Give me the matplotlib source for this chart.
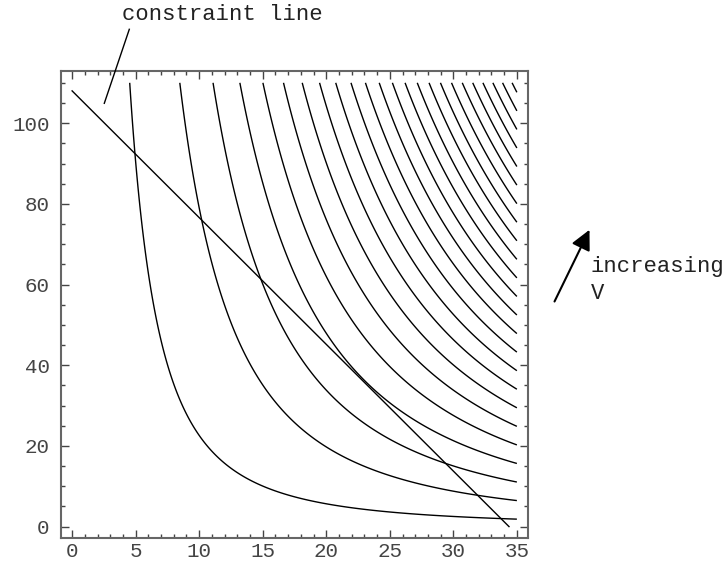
import numpy as np
import matplotlib
matplotlib.use("Agg")
import matplotlib.pyplot as plt

# contour levels of V = x^2 * y
levels = [2260, 7900, 13530, 19170, 24800, 30440, 36070, 41710, 47340, 52980,
          58610, 64250, 69880, 75520, 81150, 86790, 92420, 98060, 103690,
          109330, 114960, 120600, 126230, 131870]

# region that was contoured
x_range = [0, 35]
y_range = [0, 110]

# constraint line y = 108 - pi * x
constraint_x = [0, 34.38]
constraint_y = [108, 0]

x_ticks = [0, 5, 10, 15, 20, 25, 30, 35]
y_ticks = [0, 20, 40, 60, 80, 100]

FONT = "Liberation Mono"
GRAY = "#444444"

fig = plt.figure(figsize=(7.25, 5.63), dpi=100)
ax = fig.add_axes([0.0837, 0.0439, 0.645, 0.8305])

xs = np.linspace(x_range[0], x_range[1], 600)
ys = np.linspace(y_range[0], y_range[1], 600)
X, Y = np.meshgrid(xs, ys)
V = X ** 2 * Y
ax.contour(X, Y, V, levels=levels, colors="black", linewidths=1.0)

ax.plot(constraint_x, constraint_y, color="black", lw=1.0)

ax.set_xlim(-0.9, 35.9)
ax.set_ylim(-2.9, 113)
ax.set_xticks(x_ticks)
ax.set_yticks(y_ticks)
ax.set_xticks(np.arange(0, 36, 1), minor=True)
ax.set_yticks(np.arange(0, 111, 5), minor=True)
ax.tick_params(which="both", direction="in", top=True, right=True,
               color=GRAY, width=1.0)
ax.tick_params(which="major", length=6, labelsize=15, labelcolor=GRAY)
ax.tick_params(axis="x", which="major", pad=2.5)
ax.tick_params(axis="y", which="major", pad=8)
ax.tick_params(which="minor", length=3)
for lab in ax.get_xticklabels() + ax.get_yticklabels():
    lab.set_family(FONT)
for sp in ax.spines.values():
    sp.set_color("#666666")
    sp.set_linewidth(1.5)

# annotations
fig.text(121.7 / 725, 1 - 15 / 563, "constraint line", family=FONT,
         fontsize=16, color="#222222", va="center", ha="left")
fig.add_artist(plt.Line2D([129.3 / 725, 104.3 / 725],
                          [1 - 29.3 / 563, 1 - 103.3 / 563],
                          color="black", lw=1.0))

fig.add_artist(matplotlib.patches.FancyArrowPatch(
    (553.3 / 725, 1 - 304 / 563), (590.7 / 725, 1 - 227.3 / 563),
    transform=fig.transFigure, arrowstyle="-|>,head_length=8,head_width=4",
    color="black", lw=1.5, mutation_scale=1.5))
fig.text(591 / 725, 1 - 266.7 / 563, "increasing", family=FONT,
         fontsize=16, color="#222222", va="center", ha="left")
fig.text(591 / 725, 1 - 293.3 / 563, "V", family=FONT,
         fontsize=16, color="#222222", va="center", ha="left")

fig.savefig("out.png", dpi=100)
